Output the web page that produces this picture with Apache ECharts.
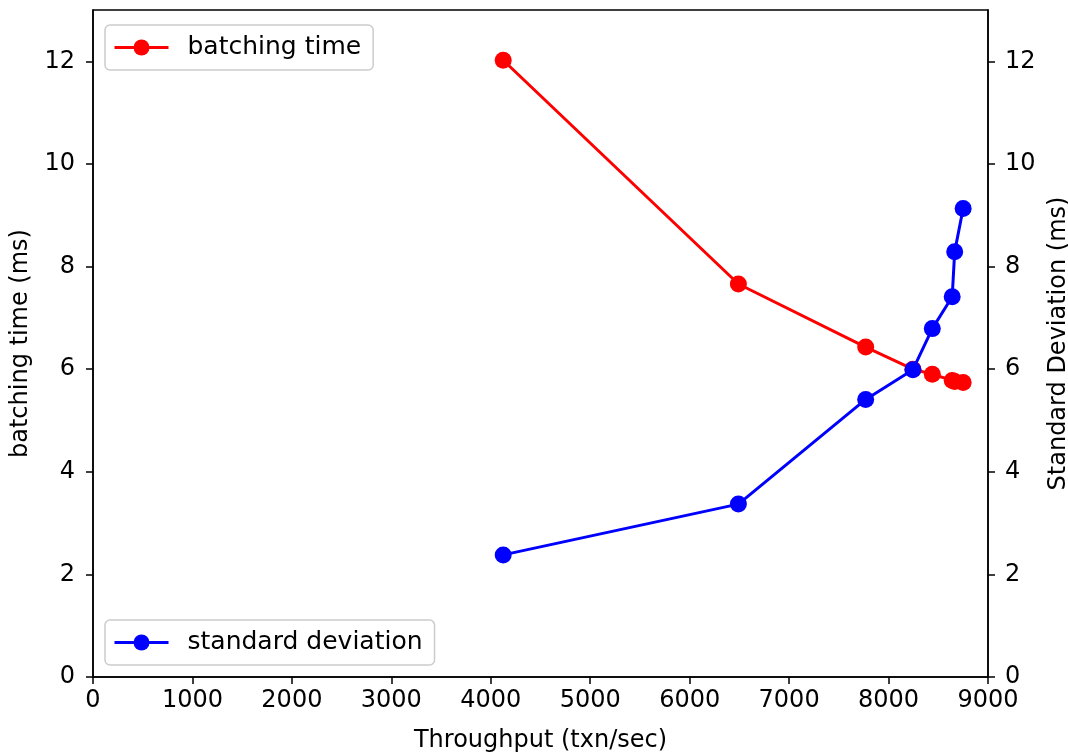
<!DOCTYPE html>
<html>
<head>
<meta charset="utf-8">
<title>Batching time vs throughput</title>
<script src="https://cdn.jsdelivr.net/npm/echarts@6/dist/echarts.min.js"></script>
<style>
  html, body { margin: 0; padding: 0; background: #fff; }
  #chart { width: 1068px; height: 752px; }
</style>
</head>
<body>
<div id="chart"></div>
<script>
// Throughput (txn/sec) for each run
const throughput = [4125, 6490, 7770, 8245, 8440, 8640, 8665, 8750];
// Average batching time (ms)
const batchingTime = [12.02, 7.66, 6.43, 6.0, 5.90, 5.78, 5.76, 5.74];
// Standard deviation of batching time (ms)
const stdDeviation = [2.38, 3.37, 5.41, 5.99, 6.79, 7.41, 8.29, 9.13];

// Tick positions shown on the axes
const xTickValues = [0, 1000, 2000, 3000, 4000, 5000, 6000, 7000, 8000, 9000];
const yTickValues = [0, 2, 4, 6, 8, 10, 12];
const yMax = 13;

const FONT = 'DejaVu Sans';
const FS = 24;

function pairs(xs, ys) {
  return xs.map((x, i) => [x, ys[i]]);
}

function axisStyle(tickValues, margin) {
  return {
    axisLine: { show: true, lineStyle: { color: '#000', width: 1.5 } },
    axisTick: {
      show: true, inside: false, length: 7, customValues: tickValues,
      lineStyle: { color: '#000', width: 1.5 }
    },
    axisLabel: {
      color: '#000', fontFamily: FONT, fontSize: FS, margin: margin,
      customValues: tickValues, formatter: v => String(v)
    },
    splitLine: { show: false },
    nameTextStyle: { color: '#000', fontFamily: FONT, fontSize: FS }
  };
}

const legendCommon = {
  left: 105,
  orient: 'vertical',
  backgroundColor: 'rgba(255,255,255,0.8)',
  borderColor: '#cccccc',
  borderWidth: 1.5,
  borderRadius: 5,
  padding: [10, 12, 10, 8],
  itemWidth: 54,
  itemHeight: 20,
  lineStyle: { width: 3 },
  textStyle: { color: '#000', fontFamily: FONT, fontSize: 25, padding: [0, 0, 0, 14] }
};

const chart = echarts.init(document.getElementById('chart'), null, { renderer: 'canvas' });

chart.setOption({
  animation: false,
  backgroundColor: '#fff',
  grid: {
    left: 93, right: 80, top: 10, bottom: 75,
    outerBoundsMode: 'none',
    containLabel: false,
    show: true, borderColor: '#000', borderWidth: 1.5, backgroundColor: 'transparent'
  },
  legend: [
    Object.assign({}, legendCommon, { top: 25, data: ['batching time'] }),
    Object.assign({}, legendCommon, { top: 620, data: ['standard deviation'] })
  ],
  xAxis: Object.assign({}, axisStyle(xTickValues, 12), {
    type: 'value',
    min: 0, max: 9000,
    name: 'Throughput (txn/sec)',
    nameLocation: 'middle',
    nameGap: 52
  }),
  yAxis: [
    Object.assign({}, axisStyle(yTickValues, 18), {
      type: 'value', position: 'left',
      min: 0, max: yMax,
      name: 'batching time (ms)',
      nameLocation: 'middle', nameRotate: 90, nameGap: 60
    }),
    Object.assign({}, axisStyle(yTickValues, 17), {
      type: 'value', position: 'right',
      min: 0, max: yMax,
      name: 'Standard Deviation (ms)',
      nameLocation: 'middle', nameRotate: 90, nameGap: 54
    })
  ],
  series: [
    {
      name: 'batching time',
      type: 'line',
      yAxisIndex: 0,
      data: pairs(throughput, batchingTime),
      symbol: 'circle', symbolSize: 17,
      lineStyle: { color: '#ff0000', width: 3 },
      itemStyle: { color: '#ff0000' },
      z: 2
    },
    {
      name: 'standard deviation',
      type: 'line',
      yAxisIndex: 1,
      data: pairs(throughput, stdDeviation),
      symbol: 'circle', symbolSize: 17,
      lineStyle: { color: '#0000ff', width: 3 },
      itemStyle: { color: '#0000ff' },
      z: 3
    }
  ]
});
</script>
</body>
</html>
